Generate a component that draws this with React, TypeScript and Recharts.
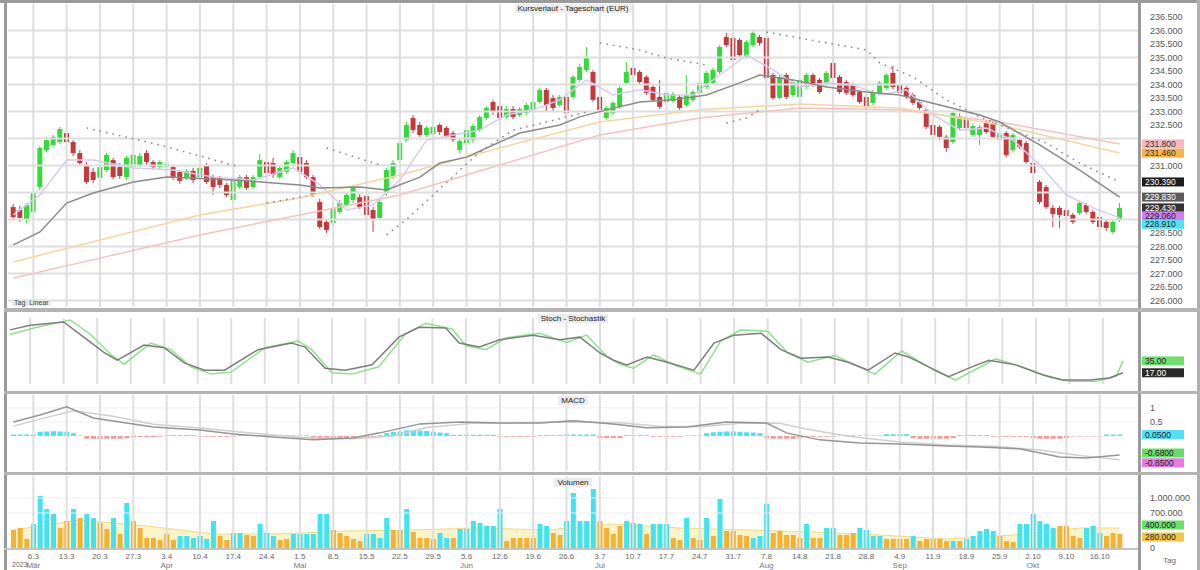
import React from "react";
import { ComposedChart, Bar, Line, Area, XAxis, YAxis, ReferenceLine, Cell } from "recharts";

// daily candles
const opens = [
  229.46, 229.35, 228.98, 229.28, 230.2, 231.57, 231.76, 231.87, 232.2, 231.87,
  231.46, 231.02, 230.76, 230.54, 230.83, 231.2, 230.94, 230.57, 230.94, 231.02,
  231.46, 231.13, 230.94, 230.94, 230.94, 230.76, 230.57, 230.8, 230.57, 231.02,
  230.57, 230.54, 230.28, 229.72, 230.2, 230.57, 230.2, 230.57, 231.13, 231.09,
  230.57, 230.76, 231.09, 231.31, 231.09, 230.57, 229.65, 228.91, 228.87, 229.28,
  229.54, 229.72, 229.83, 229.87, 229.35, 229.06, 229.98, 230.57, 231.2, 231.94,
  232.76, 232.5, 232.13, 232.17, 232.5, 232.39, 232.2, 231.57, 231.83, 231.94,
  232.31, 232.76, 233.35, 233.2, 232.8, 233.09, 232.87, 232.94, 233.06, 233.35,
  233.8, 233.5, 233.24, 233.54, 233.54, 234.17, 234.54, 234.46, 233.54, 232.76,
  232.94, 233.17, 234.06, 234.61, 234.46, 234.28, 233.91, 233.54, 233.35, 233.39,
  233.54, 233.24, 233.43, 233.69, 233.91, 234.06, 234.46, 235.76, 235.72, 235.65,
  235.02, 235.46, 235.76, 235.72, 234.35, 233.5, 234.35, 233.61, 233.54, 233.91,
  234.35, 234.17, 233.98, 234.8, 234.28, 234.09, 233.98, 233.72, 233.54, 233.32,
  233.69, 233.87, 234.43, 233.98, 233.87, 233.61, 233.35, 233.06, 232.5, 232.43,
  232.06, 231.87, 232.39, 232.76, 232.13, 232.13, 232.61, 232.57, 231.94, 232.2,
  231.57, 231.94, 231.83, 231.09, 230.39, 230.2, 229.43, 229.43, 229.35, 229.17,
  229.24, 229.54, 229.28, 229.09, 228.91, 228.54, 228.98,
];
const highs = [
  229.57, 229.5, 229.61, 230.09, 231.72, 232.06, 232.13, 232.43, 232.28, 231.94,
  231.57, 231.13, 230.91, 231.02, 231.46, 231.28, 231.09, 231.35, 231.46, 231.46,
  231.57, 231.2, 231.2, 231.17, 231.02, 230.83, 230.87, 230.91, 230.98, 231.09,
  230.65, 230.61, 230.35, 230.54, 230.65, 230.65, 230.65, 231.43, 231.28, 231.28,
  230.98, 231.2, 231.57, 231.43, 231.2, 230.65, 229.76, 228.98, 229.5, 229.72,
  229.98, 230.28, 229.94, 229.98, 229.46, 229.76, 230.91, 231.2, 231.94, 232.61,
  232.87, 232.61, 232.46, 232.5, 232.57, 232.46, 232.28, 232.02, 232.39, 232.54,
  232.87, 233.2, 233.43, 233.32, 233.2, 233.2, 233.17, 233.32, 233.43, 233.87,
  233.87, 233.61, 233.61, 233.61, 234.35, 234.76, 235.39, 234.54, 233.61, 233.2,
  233.39, 233.94, 234.83, 234.69, 234.54, 234.35, 233.98, 234.17, 233.76, 233.72,
  233.61, 234.35, 233.8, 234.13, 234.5, 234.61, 235.46, 235.91, 235.8, 235.72,
  235.65, 235.98, 235.83, 235.8, 234.43, 234.35, 234.43, 234.17, 234.24, 234.43,
  234.43, 234.24, 234.5, 234.98, 234.35, 234.17, 234.06, 233.8, 233.61, 233.8,
  234.13, 234.43, 234.69, 234.06, 233.94, 233.69, 233.43, 233.13, 232.57, 232.5,
  232.13, 233.02, 232.94, 232.83, 232.57, 232.5, 232.69, 232.65, 232.24, 232.28,
  232.2, 232.02, 231.91, 231.17, 230.46, 230.28, 229.54, 229.5, 229.43, 229.24,
  229.69, 229.61, 229.35, 229.17, 228.98, 228.98, 229.61,
];
const lows = [
  228.98, 228.91, 228.87, 229.2, 230.09, 231.5, 231.69, 231.8, 231.76, 231.35,
  230.98, 230.32, 230.35, 230.46, 230.76, 230.5, 230.5, 230.46, 230.87, 230.94,
  231.02, 230.87, 230.83, 230.83, 230.46, 230.32, 230.46, 230.35, 230.5, 230.32,
  229.91, 230.17, 229.83, 229.61, 230.13, 230.09, 230.13, 230.5, 230.65, 230.54,
  230.5, 230.69, 231.02, 230.65, 230.5, 229.83, 228.65, 228.5, 228.76, 229.2,
  229.46, 229.61, 229.39, 229.09, 228.54, 228.98, 229.87, 230.5, 231.13, 231.87,
  232.2, 232.06, 232.06, 232.06, 232.13, 231.98, 231.87, 231.46, 231.72, 231.83,
  232.24, 232.69, 232.87, 232.61, 232.72, 232.72, 232.8, 232.87, 232.98, 233.28,
  232.98, 232.98, 233.17, 232.87, 233.46, 234.09, 234.46, 233.35, 232.98, 232.69,
  232.87, 233.09, 233.98, 234.24, 234.02, 233.61, 233.35, 233.09, 233.28, 233.32,
  233.06, 233.17, 233.35, 233.61, 233.83, 233.98, 234.39, 235.39, 234.83, 234.98,
  234.94, 235.39, 235.43, 232.87, 233.43, 233.43, 233.46, 233.54, 233.46, 233.83,
  233.91, 233.65, 233.91, 234.17, 233.65, 233.61, 233.54, 233.28, 232.87, 233.24,
  233.61, 233.8, 233.83, 233.61, 233.46, 233.24, 233.06, 232.35, 232.06, 231.94,
  231.5, 231.8, 232.31, 232.31, 232.06, 231.76, 232.17, 231.98, 231.87, 231.31,
  231.5, 231.61, 231.06, 230.65, 229.57, 229.39, 228.72, 228.69, 229.02, 228.83,
  229.17, 229.2, 228.83, 228.65, 228.57, 228.46, 228.91,
];
const closes = [
  229.09, 229.06, 229.54, 229.98, 231.65, 231.94, 232.06, 232.35, 231.87, 231.46,
  231.09, 230.39, 230.46, 230.94, 231.39, 230.57, 230.61, 231.28, 231.39, 231.35,
  231.13, 230.94, 231.13, 231.06, 230.54, 230.43, 230.8, 230.46, 230.91, 230.39,
  230.2, 230.28, 229.91, 230.46, 230.57, 230.17, 230.57, 231.2, 230.72, 230.65,
  230.91, 231.13, 231.46, 230.76, 230.57, 229.91, 228.72, 228.61, 229.43, 229.61,
  229.91, 230.2, 229.46, 229.17, 228.98, 229.65, 230.83, 231.09, 231.83, 232.5,
  232.31, 232.13, 232.39, 232.43, 232.24, 232.06, 231.94, 231.91, 232.31, 232.46,
  232.8, 233.13, 232.98, 232.76, 233.09, 232.8, 233.09, 233.24, 233.35, 233.8,
  233.24, 233.13, 233.54, 232.94, 234.28, 234.65, 235.02, 233.43, 233.06, 233.13,
  233.32, 233.87, 234.46, 234.35, 234.09, 233.69, 233.43, 233.17, 233.69, 233.65,
  233.13, 233.61, 233.72, 234.06, 234.43, 234.54, 235.39, 235.46, 234.91, 235.09,
  235.57, 235.91, 235.54, 234.24, 233.5, 234.28, 233.54, 234.09, 234.17, 234.35,
  233.98, 233.72, 234.43, 234.24, 233.72, 233.69, 233.61, 233.35, 233.17, 233.72,
  234.06, 234.35, 233.91, 233.69, 233.54, 233.32, 233.13, 232.43, 232.13, 232.06,
  231.65, 232.94, 232.83, 232.39, 232.46, 232.43, 232.24, 232.06, 232.17, 231.39,
  232.13, 231.69, 231.13, 230.72, 229.65, 229.46, 229.2, 229.17, 229.13, 228.91,
  229.61, 229.28, 228.91, 228.72, 228.69, 228.91, 229.43,
];

// volume in thousands, and whether the bar is drawn cyan (1) or orange (0)
const volumes = [
  360, 400, 180, 480, 1040, 780, 680, 400, 540, 780,
  600, 680, 600, 500, 380, 600, 280, 900, 540, 400,
  200, 200, 160, 280, 160, 240, 240, 200, 240, 180,
  540, 240, 160, 300, 300, 260, 240, 480, 300, 240,
  160, 180, 280, 280, 280, 280, 680, 680, 360, 300,
  240, 180, 140, 280, 280, 200, 600, 360, 360, 780,
  320, 200, 200, 180, 300, 200, 200, 380, 380, 540,
  500, 440, 440, 780, 140, 200, 200, 200, 200, 480,
  440, 300, 260, 540, 1100, 540, 540, 1180, 540, 400,
  280, 440, 540, 500, 480, 280, 480, 480, 480, 200,
  160, 600, 200, 160, 600, 240, 980, 340, 340, 260,
  240, 200, 240, 880, 300, 340, 260, 260, 200, 480,
  200, 200, 400, 400, 260, 260, 300, 400, 360, 240,
  240, 180, 180, 180, 180, 240, 140, 180, 180, 180,
  140, 140, 140, 180, 240, 340, 380, 340, 240, 140,
  120, 480, 480, 680, 540, 480, 400, 440, 440, 240,
  200, 400, 440, 300, 240, 300, 280,
];
const volUp = [
  0, 0, 0, 1, 1, 1, 1, 0, 0, 1,
  0, 1, 1, 0, 0, 1, 0, 1, 0, 0,
  0, 0, 0, 0, 0, 1, 1, 1, 1, 1,
  1, 0, 0, 1, 1, 0, 0, 1, 1, 1,
  0, 0, 1, 1, 1, 1, 1, 1, 0, 0,
  0, 0, 0, 1, 1, 1, 1, 0, 0, 1,
  0, 0, 0, 0, 1, 1, 0, 1, 1, 1,
  1, 1, 1, 1, 0, 0, 0, 0, 0, 1,
  1, 0, 0, 1, 1, 1, 1, 1, 0, 0,
  0, 0, 1, 1, 1, 0, 1, 1, 1, 0,
  0, 1, 0, 0, 1, 0, 1, 0, 0, 0,
  0, 1, 1, 1, 0, 0, 0, 0, 0, 1,
  0, 0, 1, 1, 0, 0, 0, 1, 1, 1,
  1, 0, 0, 0, 0, 1, 0, 0, 0, 0,
  0, 1, 0, 1, 1, 1, 1, 1, 0, 0,
  0, 1, 1, 1, 1, 1, 1, 0, 0, 0,
  0, 1, 1, 1, 0, 0, 0,
];

const macdHist = [
  0.05, 0.05, 0.05, 0.05, 0.15, 0.16, 0.17, 0.16, 0.15, 0.1,
  0.02, -0.1, -0.1, -0.11, -0.1, -0.1, -0.1, -0.08, -0.04, -0.04,
  -0.04, -0.04, -0.03, 0.03, 0.03, 0.03, 0.03, 0.03, -0.03, -0.03,
  -0.03, -0.03, -0.03, -0.03, 0.03, 0.03, 0.03, 0.03, 0.03, 0.03,
  0.03, 0.02, 0.02, 0.02, 0.02, -0.1, -0.12, -0.12, -0.12, -0.1,
  -0.08, -0.05, -0.05, -0.05, -0.05, 0.03, 0.1, 0.14, 0.16, 0.2,
  0.2, 0.19, 0.18, 0.15, 0.12, 0.1, 0.04, 0.04, 0.04, 0.04,
  0.04, 0.04, 0.04, -0.03, -0.03, -0.03, -0.03, -0.03, -0.03, 0.03,
  0.03, 0.03, 0.03, 0.05, 0.05, 0.05, 0.05, 0.05, -0.08, -0.08,
  -0.08, -0.08, 0.03, 0.03, 0.03, 0.03, -0.03, -0.03, -0.03, -0.03,
  -0.03, 0.02, 0.02, 0.02, 0.1, 0.13, 0.15, 0.16, 0.16, 0.15,
  0.13, 0.12, 0.1, -0.08, -0.1, -0.1, -0.1, -0.1, -0.08, -0.03,
  -0.03, -0.03, -0.03, -0.03, 0.02, 0.02, 0.02, 0.02, 0.02, 0.02,
  0.02, 0.06, 0.06, 0.06, 0.06, -0.08, -0.1, -0.1, -0.1, -0.1,
  -0.1, -0.08, 0.03, 0.03, 0.03, 0.03, 0.03, -0.03, -0.03, -0.03,
  -0.03, -0.03, -0.03, -0.08, -0.1, -0.1, -0.1, -0.1, -0.08, -0.02,
  -0.02, -0.02, -0.02, -0.02, 0.05, 0.05, 0.05,
];

// overlay lines, read as [candle index, value] points
const maGray = [
  [0, 228.06], [4, 228.54], [8, 229.61], [12, 229.98], [18, 230.39], [23, 230.57], [33, 230.46],
  [43, 230.28], [46, 230.17], [52, 230.2], [56, 230.09], [61, 230.57], [64, 231.09], [68, 231.31],
  [72, 231.76], [76, 232.2], [82, 232.5], [85, 232.8], [89, 233.06], [94, 233.35], [99, 233.43],
  [104, 233.61], [109, 234.06], [112, 234.35], [117, 234.17], [122, 233.91], [128, 233.72],
  [133, 233.61], [139, 233.24], [145, 232.87], [148, 232.61], [154, 231.76], [160, 230.83], [166, 229.83],
];
const maLavender = [
  [0, 229.17], [4, 229.91], [8, 231.2], [12, 231.2], [18, 230.91], [24, 230.83], [30, 230.57],
  [36, 230.46], [42, 230.91], [46, 230.28], [50, 229.35], [54, 229.54], [58, 230.46], [62, 231.94],
  [66, 232.13], [70, 232.31], [74, 232.87], [78, 233.06], [82, 233.43], [86, 234.17], [90, 233.61],
  [94, 233.8], [98, 233.61], [102, 233.61], [106, 234.35], [110, 235.09], [114, 234.54], [118, 233.91],
  [122, 234.06], [126, 233.98], [130, 233.61], [134, 233.8], [138, 232.87], [142, 232.31],
  [146, 232.39], [150, 231.94], [154, 231.02], [158, 229.91], [162, 229.43], [166, 229.06],
];
const maOrange = [
  [0, 227.43], [13, 228.24], [28, 229.17], [43, 229.8], [58, 230.65], [73, 231.65],
  [88, 232.61], [103, 233.06], [118, 233.28], [133, 233.13], [148, 232.5], [166, 231.46],
];
const maPink = [
  [0, 226.83], [13, 227.57], [28, 228.43], [43, 229.17], [58, 229.91], [73, 231.02],
  [88, 232.13], [103, 232.76], [118, 233.13], [133, 233.06], [148, 232.61], [166, 231.8],
];
const sarSegments = [
  [[11, 232.39], [22, 231.76], [34, 230.94]],
  [[38, 229.61], [44, 229.87]],
  [[47, 231.65], [55, 231.02]],
  [[56, 228.43], [59, 229.0], [63, 229.91], [67, 230.83], [70, 231.5], [75, 232.31], [80, 232.61], [86, 232.98]],
  [[88, 235.54], [94, 235.28], [98, 234.98], [104, 234.72]],
  [[107, 232.57], [110, 232.76], [112, 233.06]],
  [[113, 235.94], [118, 235.72], [122, 235.54], [128, 235.28], [130, 234.8], [135, 234.28], [140, 233.43],
    [145, 232.8], [150, 232.31], [155, 231.83], [160, 231.09], [166, 230.39]],
];

const stochK = [
  [0, 82], [3, 89], [8, 94], [11, 71], [14, 48], [16, 36], [20, 59], [23, 55], [26, 32], [29, 21],
  [32, 21], [37, 52], [42, 62], [44, 56], [47, 24], [50, 21], [54, 29], [58, 71], [61, 86], [65, 85],
  [67, 62], [70, 56], [73, 67], [78, 74], [82, 67], [85, 71], [88, 47], [90, 36], [92, 29], [95, 41],
  [98, 33], [102, 21], [105, 62], [108, 74], [112, 77], [115, 52], [118, 39], [122, 41], [125, 33],
  [128, 21], [132, 47], [134, 41], [137, 26], [140, 11], [143, 24], [146, 36], [150, 29], [154, 14],
  [157, 6], [161, 6], [164, 9], [166, 17],
];
const stochD = [
  [0, 75], [4, 86], [9, 97], [12, 75], [15, 45], [17, 30], [21, 62], [24, 52], [27, 26], [30, 15],
  [33, 18], [38, 55], [43, 65], [45, 52], [48, 17], [51, 15], [55, 26], [59, 76], [62, 92], [66, 83],
  [68, 58], [71, 52], [74, 70], [79, 77], [83, 63], [86, 74], [89, 42], [91, 30], [93, 24], [96, 44],
  [99, 29], [103, 15], [106, 65], [109, 82], [113, 80], [116, 47], [119, 33], [123, 43], [126, 29],
  [129, 15], [133, 50], [135, 38], [138, 20], [141, 6], [144, 22], [147, 38], [151, 26], [155, 10],
  [158, 4], [162, 4], [165, 12], [166, 35],
];
const macdLine = [
  [0, 0.5], [4, 0.75], [8, 1.04], [12, 0.64], [18, 0.43], [21, 0.32], [28, 0.21], [33, 0.07],
  [39, -0.04], [45, -0.14], [51, -0.07], [55, 0.11], [61, 0.43], [67, 0.5], [73, 0.46], [79, 0.46],
  [84, 0.54], [90, 0.43], [95, 0.29], [101, 0.32], [107, 0.5], [113, 0.46], [116, 0.11], [121, -0.14],
  [127, -0.25], [133, -0.29], [140, -0.36], [145, -0.39], [151, -0.46], [157, -0.75], [161, -0.79], [166, -0.68],
];
const macdSignal = [
  [0, 0.35], [4, 0.6], [9, 0.9], [15, 0.7], [21, 0.42], [28, 0.28], [36, 0.1], [43, -0.05], [51, -0.1],
  [57, 0.0], [62, 0.3], [69, 0.45], [76, 0.47], [84, 0.5], [91, 0.47], [97, 0.35], [103, 0.33],
  [109, 0.45], [115, 0.45], [119, 0.25], [125, 0.0], [133, -0.22], [140, -0.32], [148, -0.38],
  [154, -0.5], [160, -0.7], [166, -0.85],
];
const volAvg = [
  [0, 360], [10, 560], [20, 440], [30, 280], [40, 280], [50, 340], [60, 360], [70, 400], [80, 360],
  [90, 480], [100, 400], [110, 360], [120, 320], [130, 260], [140, 180], [150, 260], [160, 400], [166, 400],
];

const priceTicks = [
  226, 226.5, 227, 227.5, 228, 228.5, 229, 229.5, 230, 230.5, 231,
  231.5, 232, 232.5, 233, 233.5, 234, 234.5, 235, 235.5, 236, 236.5,
];
const gridPrices = [226, 227, 228, 229, 230, 231, 232, 233, 234, 235, 236];
const macdTicks = [0.5, 1];
const volTicks = [0, 700, 1000];

const tickIdx = [
  3, 8, 13, 18, 23, 28, 33, 38, 43, 48, 53, 58, 63, 68, 73, 78, 83,
  88, 93, 98, 103, 108, 113, 118, 123, 128, 133, 138, 143, 148, 153, 158, 163,
];
const tickLabels = [
  "6.3", "13.3", "20.3", "27.3", "3.4", "10.4", "17.4", "24.4", "1.5", "8.5", "15.5", "22.5", "29.5",
  "5.6", "12.6", "19.6", "26.6", "3.7", "10.7", "17.7", "24.7", "31.7", "7.8", "14.8", "21.8", "28.8",
  "4.9", "11.9", "18.9", "25.9", "2.10", "9.10", "16.10",
];
const monthIdx = [3, 23, 43, 68, 88, 113, 133, 153];
const monthLabels = ["Mär", "Apr", "Mai", "Jun", "Jul", "Aug", "Sep", "Okt"];

const rows: any[] = opens.map((o, i) => ({
  i,
  open: o,
  high: highs[i],
  low: lows[i],
  close: closes[i],
  range: [lows[i], highs[i]],
  vol: volumes[i],
  up: volUp[i],
  hist: macdHist[i],
}));
const put = (key: string, pts: number[][]) => pts.forEach(([i, v]) => { rows[i][key] = v; });
put("maGray", maGray);
put("maLav", maLavender);
put("maOrange", maOrange);
put("maPink", maPink);
sarSegments.forEach((seg, k) => put("sar" + k, seg));
put("k", stochK);
put("d", stochD);
put("macd", macdLine);
put("signal", macdSignal);
put("volAvg", volAvg);

const last = (pts: number[][]) => pts[pts.length - 1][1];
const n = rows.length - 1;

// last values shown as tags on the price scale; the plain ticks they cover are left out
const priceTags = [last(maPink), last(maOrange), last(sarSegments[6]), last(maGray), closes[n], last(maLavender), lows[n]];
const shownPriceTicks = priceTicks.filter((t) => priceTags.every((b) => Math.abs(b - t) > 0.22));

const FONT = "'Liberation Sans', Arial, sans-serif";
const PAD = { left: 2, right: 15 };
const GRID = "#dedede";

const Candle = (props: any) => {
  const { x, y, width, height, payload } = props;
  if (!payload || height == null) return null;
  const { open, close, high, low } = payload;
  const k = height / (high - low || 1);
  const cx = x + width / 2;
  const yO = y + (high - open) * k;
  const yC = y + (high - close) * k;
  const color = close >= open ? "#34d93a" : "#c5383c";
  return (
    <g>
      <line x1={cx} x2={cx} y1={y} y2={y + height} stroke={color} strokeWidth={1} />
      <rect x={cx - 2.5} y={Math.min(yO, yC)} width={5} height={Math.max(1, Math.abs(yC - yO))} fill={color} />
    </g>
  );
};

const Badge = ({ viewBox, text, bg, fg, dy = 0 }: any) => {
  if (!viewBox) return null;
  const x = viewBox.x + viewBox.width + 4;
  const y = viewBox.y + dy;
  return (
    <g>
      <rect x={x} y={y - 4.5} width={42} height={9} fill={bg} />
      <text x={x + 3} y={y + 3} fontSize={8.5} fontFamily={FONT} fill={fg}>{text}</text>
    </g>
  );
};

const badge = (key: string, v: number, text: string, bg: string, fg: string, dy = 0) => (
  <ReferenceLine key={key} y={v} stroke="none" label={(p: any) => <Badge {...p} text={text} bg={bg} fg={fg} dy={dy} />} />
);

const DateTick = (props: any) => {
  const { x, y, payload } = props;
  const k = tickIdx.indexOf(payload.value);
  const m = monthIdx.indexOf(payload.value);
  return (
    <g fontFamily={FONT}>
      <text x={x} y={y + 3} textAnchor="middle" fontSize={8} fill="#666">{tickLabels[k]}</text>
      {m >= 0 && (
        <text x={x} y={y + 12} textAnchor="middle" fontSize={8} fill="#777">{monthLabels[m]}</text>
      )}
    </g>
  );
};

const fmtVol = (v: number) => String(Math.round(v * 1000)).replace(/\B(?=(\d{3})+(?!\d))/g, ".");

const vGrid = tickIdx.map((t) => <ReferenceLine key={"v" + t} x={t} stroke={GRID} strokeWidth={2} />);

const bar = (style: any) => <div style={{ position: "absolute", background: "#9a9a9a", ...style }} />;

const PanelTitle = ({ top, text }: { top: number; text: string }) => (
  <div style={{ position: "absolute", left: 0, top, width: 1146, textAlign: "center", fontSize: 8, lineHeight: "9px", fontFamily: FONT, color: "#222" }}>
    <span style={{ background: "#ececec", padding: "0 3px" }}>{text}</span>
  </div>
);

export default function App() {
  return (
    <div style={{ position: "absolute", left: 0, top: 0, width: 1200, height: 570, background: "#fff", overflow: "hidden", fontFamily: FONT }}>
      {/* price panel */}
      <div style={{ position: "absolute", left: 0, top: 4 }}>
        <ComposedChart width={1200} height={303} data={rows} margin={{ top: 0, right: 0, bottom: 0, left: 8 }}>
          <XAxis dataKey="i" hide padding={PAD} />
          <YAxis orientation="right" width={62} domain={[225.76, 236.98]} allowDataOverflow ticks={shownPriceTicks} interval={0}
            tickFormatter={(v: number) => v.toFixed(3)} tick={{ fontSize: 9, fill: "#555", fontFamily: FONT }}
            axisLine={false} tickLine={false} tickMargin={6} />
          {gridPrices.map((p) => <ReferenceLine key={"h" + p} y={p} stroke={GRID} strokeWidth={2} />)}
          {vGrid}
          <Line dataKey="maPink" stroke="#f4c2c2" strokeWidth={1.5} dot={false} connectNulls isAnimationActive={false} />
          <Line dataKey="maOrange" stroke="#f3d7a2" strokeWidth={1.5} dot={false} connectNulls isAnimationActive={false} />
          <Line dataKey="maLav" stroke="#dcc9f0" strokeWidth={1.5} dot={false} connectNulls isAnimationActive={false} />
          <Line dataKey="maGray" stroke="#8a8a8a" strokeWidth={1.5} dot={false} connectNulls isAnimationActive={false} />
          {sarSegments.map((_, k) => (
            <Line key={"sar" + k} dataKey={"sar" + k} stroke="#8c8c8c" strokeWidth={1.6} strokeDasharray="1.6 5"
              dot={false} connectNulls isAnimationActive={false} />
          ))}
          <Bar dataKey="range" shape={<Candle />} isAnimationActive={false} />
          {badge("bp", last(maPink), last(maPink).toFixed(3), "#f5b8c0", "#333")}
          {badge("bo", last(maOrange), last(maOrange).toFixed(3), "#f5b547", "#333")}
          {badge("bs", last(sarSegments[6]), last(sarSegments[6]).toFixed(3), "#1c1c1c", "#fff")}
          {badge("bg", last(maGray), last(maGray).toFixed(3), "#5c5c5c", "#fff")}
          {badge("bc", closes[n], closes[n].toFixed(3), "#333333", "#fff")}
          {badge("bl", last(maLavender), last(maLavender).toFixed(3), "#d27ef0", "#222", -2)}
          {badge("bw", lows[n], lows[n].toFixed(3), "#52e2f6", "#222", 2.5)}
        </ComposedChart>
      </div>

      {/* stochastic */}
      <div style={{ position: "absolute", left: 0, top: 313 }}>
        <ComposedChart width={1200} height={77} data={rows} margin={{ top: 5, right: 0, bottom: 6, left: 8 }}>
          <XAxis dataKey="i" hide padding={PAD} />
          <YAxis orientation="right" width={62} domain={[0, 100]} allowDataOverflow tick={false} axisLine={false} tickLine={false} />
          {vGrid}
          <Line dataKey="d" stroke="#8fe08f" strokeWidth={1.5} dot={false} connectNulls isAnimationActive={false} />
          <Line dataKey="k" stroke="#7d7d7d" strokeWidth={1.5} dot={false} connectNulls isAnimationActive={false} />
          {badge("sd", last(stochD), last(stochD).toFixed(2), "#6fe06f", "#222")}
          {badge("sk", last(stochK), last(stochK).toFixed(2), "#2a2a2a", "#fff")}
        </ComposedChart>
      </div>

      {/* MACD */}
      <div style={{ position: "absolute", left: 0, top: 395 }}>
        <ComposedChart width={1200} height={76} data={rows} margin={{ top: 0, right: 0, bottom: 0, left: 8 }}>
          <XAxis dataKey="i" hide padding={PAD} />
          <YAxis orientation="right" width={62} domain={[-1.25, 1.46]} allowDataOverflow ticks={macdTicks} interval={0}
            tick={{ fontSize: 9, fill: "#555", fontFamily: FONT }} axisLine={false} tickLine={false} tickMargin={6} />
          {macdTicks.map((t) => <ReferenceLine key={"m" + t} y={t} stroke="#eeeeee" />)}
          {vGrid}
          <Bar dataKey="hist" barSize={5} isAnimationActive={false}>
            {rows.map((r) => <Cell key={r.i} fill={r.hist >= 0 ? "#45e3f5" : "#f29a9a"} />)}
          </Bar>
          <Line dataKey="signal" stroke="#cfcfcf" strokeWidth={1.5} dot={false} connectNulls isAnimationActive={false} />
          <Line dataKey="macd" stroke="#959595" strokeWidth={1.5} dot={false} connectNulls isAnimationActive={false} />
          {badge("mh", macdHist[n], macdHist[n].toFixed(4), "#52e2f6", "#222")}
          {badge("mm", last(macdLine), last(macdLine).toFixed(4), "#66dd66", "#222", -2)}
          {badge("ms", last(macdSignal), last(macdSignal).toFixed(4), "#e57ae5", "#222", 3)}
        </ComposedChart>
      </div>

      {/* volume + dates */}
      <div style={{ position: "absolute", left: 0, top: 476 }}>
        <ComposedChart width={1200} height={94} data={rows} margin={{ top: 0, right: 0, bottom: 0, left: 8 }}>
          <XAxis dataKey="i" padding={PAD} height={22} ticks={tickIdx} interval={0} tick={<DateTick />}
            axisLine={false} tickLine={false} />
          <YAxis orientation="right" width={62} domain={[0, 1440]} allowDataOverflow ticks={volTicks} interval={0}
            tickFormatter={fmtVol} tick={{ fontSize: 9, fill: "#555", fontFamily: FONT }} axisLine={false} tickLine={false} tickMargin={6} />
          {volTicks.slice(1).map((t) => <ReferenceLine key={"vv" + t} y={t} stroke="#eeeeee" />)}
          {vGrid}
          <Bar dataKey="vol" barSize={5} isAnimationActive={false}>
            {rows.map((r) => <Cell key={r.i} fill={r.up ? "#3fe3f2" : "#f5b133"} />)}
          </Bar>
          <Area dataKey="volAvg" stroke="#f1dc7a" strokeWidth={1} fill="#f7e48a" fillOpacity={0.45} dot={false}
            connectNulls isAnimationActive={false} />
          {badge("va", last(volAvg), fmtVol(last(volAvg)), "#6be06b", "#222", -3)}
          {badge("vl", volumes[n], fmtVol(volumes[n]), "#f5c445", "#222", 3)}
        </ComposedChart>
      </div>

      {/* frame and separators */}
      {bar({ left: 0, top: 0, width: 1200, height: 3 })}
      {bar({ left: 4, top: 0, width: 3, height: 570 })}
      {bar({ left: 1138, top: 3, width: 3, height: 567 })}
      {bar({ left: 1197, top: 0, width: 3, height: 570, background: "#b0b0b0" })}
      {bar({ left: 4, top: 308, width: 1196, height: 4, background: "#b4b4b4" })}
      {bar({ left: 4, top: 391, width: 1196, height: 3, background: "#b4b4b4" })}
      {bar({ left: 4, top: 472, width: 1196, height: 3, background: "#b4b4b4" })}
      {bar({ left: 4, top: 548, width: 1134, height: 2, background: "#c4c4c4" })}

      <PanelTitle top={4} text="Kursverlauf - Tageschart (EUR)" />
      <PanelTitle top={314} text="Stoch - Stochastik" />
      <PanelTitle top={396} text="MACD" />
      <PanelTitle top={478} text="Volumen" />
      <div style={{ position: "absolute", left: 12, top: 299, fontSize: 7, color: "#444", background: "#e8e8e8", padding: "0 2px" }}>Tag&nbsp;&nbsp;Linear</div>
      <div style={{ position: "absolute", left: 12, top: 561, fontSize: 7, color: "#666" }}>2023</div>
      <div style={{ position: "absolute", left: 1163, top: 556, fontSize: 8, color: "#666" }}>Tag</div>
    </div>
  );
}
